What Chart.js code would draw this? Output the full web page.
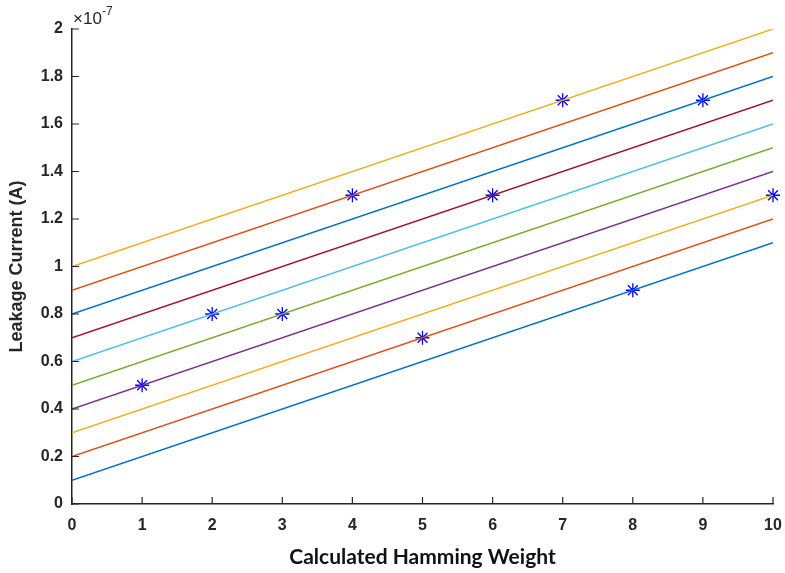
<!DOCTYPE html>
<html>
<head>
<meta charset="utf-8">
<script src="https://cdn.jsdelivr.net/npm/chart.js"></script>
<style>
  html, body { margin: 0; padding: 0; background: #fff; }
  #wrap { width: 785px; height: 573px; }
</style>
</head>
<body>
<div id="wrap"><canvas id="c" width="785" height="573"></canvas></div>
<script>
// line intercepts at x = 0 (slope 0.1 per unit), in units of 1e-7 A
const intercepts = [0.1, 0.2, 0.3, 0.4, 0.5, 0.6, 0.7, 0.8, 0.9, 1.0];
const slope = 0.1;
const lineX = [0, 10];
const lineColors = ['#0072BD', '#D95319', '#EDB120', '#7E2F8E', '#77AC30',
                    '#4DBEEE', '#A2142F', '#0072BD', '#D95319', '#EDB120'];
// measured points
const hammingWeight = [1, 2, 3, 4, 5, 6, 7, 8, 9, 10];
const leakage = [0.5, 0.8, 0.8, 1.3, 0.7, 1.3, 1.7, 0.9, 1.7, 1.3];
const xTicks = [0, 1, 2, 3, 4, 5, 6, 7, 8, 9, 10];
const yTicks = [0, 0.2, 0.4, 0.6, 0.8, 1, 1.2, 1.4, 1.6, 1.8, 2];

const axisColor = '#262626';
const tickFont = { family: 'Arial, "Liberation Sans"', size: 16, weight: 'bold' };

const datasets = intercepts.map((b, i) => ({
  type: 'line',
  data: lineX.map(x => ({ x: x, y: b + slope * x })),
  borderColor: lineColors[i],
  borderWidth: 1.5,
  pointRadius: 0,
  fill: false
}));
datasets.push({
  type: 'scatter',
  data: hammingWeight.map((x, i) => ({ x: x, y: leakage[i] })),
  pointStyle: 'star',
  pointRadius: 7,
  borderColor: '#0000FF',
  backgroundColor: '#0000FF',
  pointBorderWidth: 1.3,
  clip: false
});

// inward tick marks, exponent label and axis titles, MATLAB style
const matlabAxes = {
  id: 'matlabAxes',
  afterDraw(chart) {
    const ctx = chart.ctx;
    const xs = chart.scales.x, ys = chart.scales.y;
    const a = chart.chartArea;
    ctx.save();
    ctx.strokeStyle = axisColor;
    ctx.lineWidth = 1.2;
    ctx.beginPath();
    xTicks.forEach(v => {
      const px = xs.getPixelForValue(v);
      ctx.moveTo(px, a.bottom);
      ctx.lineTo(px, a.bottom - 7);
    });
    yTicks.forEach(v => {
      const py = ys.getPixelForValue(v);
      ctx.moveTo(a.left, py);
      ctx.lineTo(a.left + 7, py);
    });
    ctx.stroke();
    ctx.fillStyle = axisColor;
    ctx.textBaseline = 'alphabetic';
    ctx.textAlign = 'left';
    ctx.font = '17px Arial, "Liberation Sans"';
    ctx.fillText('\u00d710', a.left + 1, a.top - 5);
    ctx.font = '12px Arial, "Liberation Sans"';
    ctx.fillText('-7', a.left + 30, a.top - 14);

    // axis titles
    ctx.fillStyle = '#111';
    ctx.textAlign = 'center';
    ctx.textBaseline = 'middle';
    ctx.font = 'bold 21px Lato, "Open Sans"';
    ctx.fillText('Calculated Hamming Weight', (a.left + a.right) / 2, 557);
    ctx.translate(17, (a.top + a.bottom) / 2);
    ctx.rotate(-Math.PI / 2);
    ctx.fillStyle = axisColor;
    ctx.font = 'bold 18px Arial, "Liberation Sans"';
    ctx.fillText('Leakage Current (A)', 0, 0);
    ctx.restore();
  }
};

new Chart(document.getElementById('c'), {
  data: { datasets: datasets },
  options: {
    responsive: false,
    animation: false,
    layout: { autoPadding: false, padding: { top: 29, right: 12, left: 0, bottom: 0 } },
    plugins: { legend: { display: false }, tooltip: { enabled: false } },
    scales: {
      x: {
        type: 'linear',
        min: 0, max: 10,
        afterFit(s) { s.height = 69; s.paddingRight = 0; },
        afterBuildTicks(s) { s.ticks = xTicks.map(v => ({ value: v })); },
        grid: { drawOnChartArea: false, drawTicks: false },
        border: { color: axisColor, width: 1.5 },
        ticks: { color: axisColor, font: tickFont, padding: 12, maxRotation: 0,
                 callback: v => String(v) }
      },
      y: {
        type: 'linear',
        min: 0, max: 2,
        afterFit(s) { s.width = 72; },
        afterBuildTicks(s) { s.ticks = yTicks.map(v => ({ value: v })); },
        grid: { drawOnChartArea: false, drawTicks: false },
        border: { color: axisColor, width: 1.5 },
        ticks: { color: axisColor, font: tickFont, padding: 9,
                 callback: v => String(Math.round(v * 10) / 10) }
      }
    }
  },
  plugins: [matlabAxes]
});
</script>
</body>
</html>
